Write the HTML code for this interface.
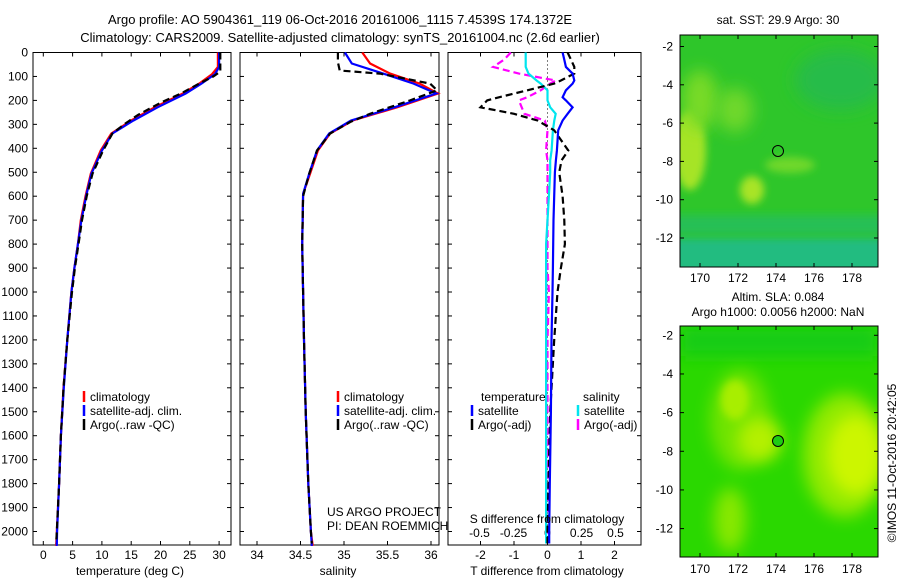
<!DOCTYPE html>
<html><head><meta charset="utf-8"><style>
html,body{margin:0;padding:0;background:#fff;}
svg{display:block;font-family:"Liberation Sans",sans-serif;}
</style></head><body>
<svg id="c" width="900" height="580" viewBox="0 0 900 580" xmlns="http://www.w3.org/2000/svg">
<defs>
<filter id="bl" x="-50%" y="-50%" width="200%" height="200%"><feGaussianBlur stdDeviation="8"/></filter>
<filter id="bl2" x="-50%" y="-50%" width="200%" height="200%"><feGaussianBlur stdDeviation="4"/></filter>
<filter id="bl3" x="-50%" y="-50%" width="200%" height="200%"><feGaussianBlur stdDeviation="12"/></filter>
<clipPath id="m1"><rect x="680" y="35" width="198" height="232"/></clipPath>
<clipPath id="m2"><rect x="680" y="326" width="198" height="231"/></clipPath>
</defs>
<text x="340" y="24" font-size="13" text-anchor="middle">Argo profile: AO 5904361_119 06-Oct-2016 20161006_1115 7.4539S 174.1372E</text>
<text x="340" y="42" font-size="13" text-anchor="middle">Climatology: CARS2009. Satellite-adjusted climatology: synTS_20161004.nc (2.6d earlier)</text>

<g clip-path="url(#m1)">
<rect x="680" y="35" width="198" height="232" fill="#2ec62a"/>
<rect x="660" y="238" width="240" height="50" fill="#22bc80" filter="url(#bl2)"/>
<rect x="660" y="215" width="240" height="20" fill="#28bf55" filter="url(#bl2)"/>
<ellipse cx="690" cy="150" rx="16" ry="40" fill="#a6e426" filter="url(#bl2)"/>
<ellipse cx="700" cy="100" rx="18" ry="30" fill="#78da28" filter="url(#bl)"/>
<ellipse cx="735" cy="110" rx="18" ry="22" fill="#70d82a" filter="url(#bl)"/>
<ellipse cx="752" cy="190" rx="12" ry="14" fill="#a8e426" filter="url(#bl2)"/>
<ellipse cx="790" cy="165" rx="25" ry="8" fill="#70d82a" filter="url(#bl2)"/>
<ellipse cx="840" cy="80" rx="45" ry="30" fill="#28bc4a" filter="url(#bl)"/>
<circle cx="778" cy="151" r="5.5" fill="none" stroke="#000" stroke-width="1"/>
</g>
<rect x="680" y="35" width="198" height="232" fill="none" stroke="#000"/>
<text x="778" y="24" font-size="12" text-anchor="middle">sat. SST: 29.9 Argo: 30</text>

<g clip-path="url(#m2)">
<rect x="680" y="326" width="198" height="231" fill="#2ad800"/>
<rect x="680" y="326" width="198" height="30" fill="#14cc14" filter="url(#bl)"/>
<ellipse cx="740" cy="420" rx="30" ry="50" fill="#70e400" filter="url(#bl)"/>
<ellipse cx="735" cy="400" rx="14" ry="20" fill="#a8ee00" filter="url(#bl2)"/>
<ellipse cx="760" cy="440" rx="22" ry="22" fill="#b4f000" filter="url(#bl)"/>
<ellipse cx="730" cy="520" rx="16" ry="32" fill="#88e800" filter="url(#bl)"/>
<ellipse cx="845" cy="455" rx="42" ry="62" fill="#90ea00" filter="url(#bl)"/>
<ellipse cx="855" cy="455" rx="28" ry="40" fill="#ccf600" filter="url(#bl)"/>
<circle cx="778" cy="441" r="5.5" fill="#1ecc14" stroke="#000" stroke-width="1"/>
</g>
<rect x="680" y="326" width="198" height="231" fill="none" stroke="#000"/>
<text x="778" y="301" font-size="12" text-anchor="middle">Altim. SLA: 0.084</text>
<text x="778" y="316" font-size="12" text-anchor="middle">Argo h1000: 0.0056 h2000: NaN</text>
<text transform="translate(896,463) rotate(-90)" font-size="12" text-anchor="middle">©IMOS 11-Oct-2016 20:42:05</text>
<g id="mapaxes"></g>

<g id="plots"></g>
</svg>
<script>
// ---------- data ----------
const depthTicks=[0,100,200,300,400,500,600,700,800,900,1000,1100,1200,1300,1400,1500,1600,1700,1800,1900,2000];
const tTicks=[0,5,10,15,20,25,30];
const sTicks=[34,34.5,35,35.5,36];
const dTTicks=[-2,-1,0,1,2];
const dSTicks=[-0.5,-0.25,0,0.25,0.5];
const dSTickLabels=['-0.5','-0.25','0','0.25','0.5'];
const latTicks=[-2,-4,-6,-8,-10,-12];
const lonTicks=[170,172,174,176,178];

const tClimDepth=[0,60,90,130,171,229,284,338,409,506,600,700,800,900,1000,1200,1400,1600,1800,2000,2060];
const tClim=[29.8,29.8,28.8,26.6,23.8,19.0,15.0,11.6,9.8,8.1,7.2,6.4,5.9,5.3,4.8,4.1,3.45,3.0,2.7,2.3,2.2];
const tSat=[30.0,30.0,29.3,27.0,24.3,19.5,15.4,11.8,10.0,8.2,7.3,6.5,5.9,5.3,4.8,4.1,3.5,3.0,2.7,2.35,2.3];
const tArgoDepth=[0,80,100,130,171,210,260,300,338,409,506,600,700,800,900,1000,1200,1400,1600,1800,2000,2050];
const tArgo=[30.2,30.2,29.0,26.6,23.5,20.0,16.2,13.8,11.8,10.2,8.4,7.4,6.6,6.0,5.4,4.9,4.1,3.45,3.0,2.7,2.3,2.2];

const sClimDepth=[0,46,88,130,171,229,284,338,409,506,590,800,1000,1200,1500,1800,2000,2060];
const sClim=[35.21,35.30,35.53,35.87,36.08,35.61,35.10,34.84,34.70,34.61,34.53,34.52,34.53,34.54,34.56,34.59,34.62,34.64];
const sSat=[35.01,35.09,35.45,35.80,36.06,35.58,35.08,34.83,34.69,34.60,34.53,34.52,34.53,34.54,34.56,34.59,34.62,34.63];
const sArgoDepth=[0,40,75,88,130,158,200,256,290,338,409,506,600,800,1000,1200,1500,1800,2000,2050];
const sArgo=[34.93,34.93,34.95,35.41,35.99,36.07,35.76,35.30,35.07,34.84,34.69,34.60,34.53,34.52,34.53,34.54,34.56,34.59,34.62,34.63];

const dDepth=[0,30,60,88,117,130,158,187,200,229,256,284,325,409,450,500,600,700,800,900,1000,1200,1500,1800,2000,2050];
const dTSat=[0.45,0.5,0.55,0.75,0.8,0.75,0.55,0.45,0.55,0.75,0.6,0.45,0.32,0.28,0.25,0.22,0.2,0.18,0.17,0.16,0.15,0.12,0.1,0.07,0.05,0.05];
const dTArgo=[0.6,0.7,0.8,0.8,0.4,0.2,-0.6,-1.45,-1.8,-2.0,-1.0,-0.3,0.2,0.62,0.42,0.35,0.45,0.5,0.52,0.4,0.3,0.2,0.08,0.03,0.0,0.0];
const dSSat=[-0.16,-0.16,-0.16,-0.14,-0.08,-0.05,0.0,0.0,0.0,0.02,0.06,0.05,0.04,0.03,0.02,0.02,0.01,0.0,-0.01,-0.01,-0.01,-0.01,-0.01,-0.01,-0.01,-0.01];
const dSArgo=[-0.27,-0.32,-0.40,-0.21,0.06,0.02,-0.05,-0.15,-0.21,-0.19,-0.17,-0.02,0.0,-0.01,0.0,0.0,0.0,0.0,0.0,0.0,0.01,0.0,0.0,0.0,0.0,0.0];

// ---------- axes ----------
const Y0=52.5, YS=0.2395, Ybot=545;
const yD=d=>Y0+d*YS;
const xT=t=>43.3+t*5.86;
const xS=s=>257+(s-34)*87;
const xDT=t=>547.5+t*33.5;
const xDS=s=>547.5+s*136;
const mxLon=l=>700+(l-170)*19;
const myLat1=l=>46.5+(-2-l)*19.15;
const myLat2=l=>335.3+(-2-l)*19.33;

const NS='http://www.w3.org/2000/svg';
const P=document.getElementById('plots');
function mk(tag,attrs,parent){const e=document.createElementNS(NS,tag);for(const k in attrs)e.setAttribute(k,attrs[k]);(parent||P).appendChild(e);return e;}
function txt(x,y,s,anchor,size,parent){const e=mk('text',{x:x,y:y,'font-size':size||12,'text-anchor':anchor||'start'},parent);e.textContent=s;return e;}

const panels=[{x0:33,x1:231,name:'temperature'},{x0:240,x1:439,name:'salinity'},{x0:448,x1:641,name:'difference'}];
panels.forEach((p,i)=>{
  const f=mk('rect',{x:p.x0,y:Y0,width:p.x1-p.x0,height:Ybot-Y0,fill:'none',stroke:'#000','stroke-width':1});
  
  
  depthTicks.forEach(d=>{
    const y=yD(d);
    mk('line',{x1:p.x0,x2:p.x0+4,y1:y,y2:y,stroke:'#000'});
    mk('line',{x1:p.x1-4,x2:p.x1,y1:y,y2:y,stroke:'#000'});
    if(i===0){const t=txt(28,y+4,String(d),'end',12);
      
      }
  });
});
function xticks(vals,fx,ly){
  vals.forEach(v=>{const x=fx(v);
    mk('line',{x1:x,x2:x,y1:Ybot,y2:Ybot-4,stroke:'#000'});
    mk('line',{x1:x,x2:x,y1:Y0,y2:Y0+4,stroke:'#000'});
    const t=txt(x,ly,String(v),'middle',12);
    
    
  });
}
xticks(tTicks,xT,559);
xticks(sTicks,xS,559);
xticks(dTTicks,xDT,559);
dSTicks.forEach((v,k)=>{const t=txt(xDS(v),537,dSTickLabels[k],'middle',12);
  
  });
const zl=mk('line',{x1:xDT(0),x2:xDT(0),y1:Y0,y2:Ybot,stroke:'#000','stroke-dasharray':'1,3'});



function series(depths,vals,fx,color,dash,name){
  const pts=depths.map((d,k)=>fx(vals[k]).toFixed(1)+','+yD(d).toFixed(1)).join(' ');
  const a={points:pts,fill:'none',stroke:color,'stroke-width':2.2};
  if(dash)a['stroke-dasharray']=dash;
  const e=mk('polyline',a);
  
  
}
series(tClimDepth,tClim,xT,'#ff0000',null,'temp-climatology-line');
series(tClimDepth,tSat,xT,'#0000ff',null,'temp-satellite-line');
series(tArgoDepth,tArgo,xT,'#000',"7,4",'temp-argo-line');
series(sClimDepth,sClim,xS,'#ff0000',null,'sal-climatology-line');
series(sClimDepth,sSat,xS,'#0000ff',null,'sal-satellite-line');
series(sArgoDepth,sArgo,xS,'#000',"7,4",'sal-argo-line');
series(dDepth,dSArgo,xDS,'#ff00ff',"7,4",'s-diff-argo-line');
series(dDepth,dSSat,xDS,'#00e5ee',null,'s-diff-satellite-line');
series(dDepth,dTArgo,xDT,'#000',"7,4",'t-diff-argo-line');
series(dDepth,dTSat,xDT,'#0000ff',null,'t-diff-satellite-line');

function legItem(x,y,color,label,name){
  const b=mk('line',{x1:x,x2:x,y1:y-10,y2:y+1,stroke:color,'stroke-width':2.5});
  
  
  const t=txt(x+6,y,label,'start',12);
  
  
}
[84,338].forEach(x=>{
  legItem(x,401,'#ff0000','climatology','legend-climatology');
  legItem(x,415,'#0000ff','satellite-adj. clim.','legend-satellite');
  legItem(x,429,'#000','Argo(..raw -QC)','legend-argo');
});
txt(481,401,'temperature','start',12);
legItem(472,415,'#0000ff','satellite','legend-t-satellite');
legItem(472,429,'#000','Argo(-adj)','legend-t-argo');
txt(583,401,'salinity','start',12);
legItem(578,415,'#00e5ee','satellite','legend-s-satellite');
legItem(578,429,'#ff00ff','Argo(-adj)','legend-s-argo');

[['temperature (deg C)',130,575,'x-axis-title-temperature'],['salinity',338,575,'x-axis-title-salinity'],['T difference from climatology',547,575,'x-axis-title-t-diff'],['S difference from climatology',547,523,'x-axis-title-s-diff']].forEach(a=>{
  const t=txt(a[1],a[2],a[0],'middle',12);
  
  
});
let t1=txt(327,516,'US ARGO PROJECT','start',12);


let t2=txt(327,530,'PI: DEAN ROEMMICH','start',12);



const MA=document.getElementById('mapaxes');
[[myLat1,35,267,282],[myLat2,326,557,573]].forEach(([fy,top,bot,ly])=>{
  latTicks.forEach(l=>{const y=fy(l);
    mk('line',{x1:680,x2:684,y1:y,y2:y,stroke:'#000'},MA);
    mk('line',{x1:874,x2:878,y1:y,y2:y,stroke:'#000'},MA);
    const t=txt(673,y+4,String(l),'end',12,MA);
    
    
  });
  lonTicks.forEach(l=>{const x=mxLon(l);
    mk('line',{x1:x,x2:x,y1:bot,y2:bot-4,stroke:'#000'},MA);
    mk('line',{x1:x,x2:x,y1:top,y2:top+4,stroke:'#000'},MA);
    const t=txt(x,ly,String(l),'middle',12,MA);
    
    
  });
});
</script>
</body></html>
